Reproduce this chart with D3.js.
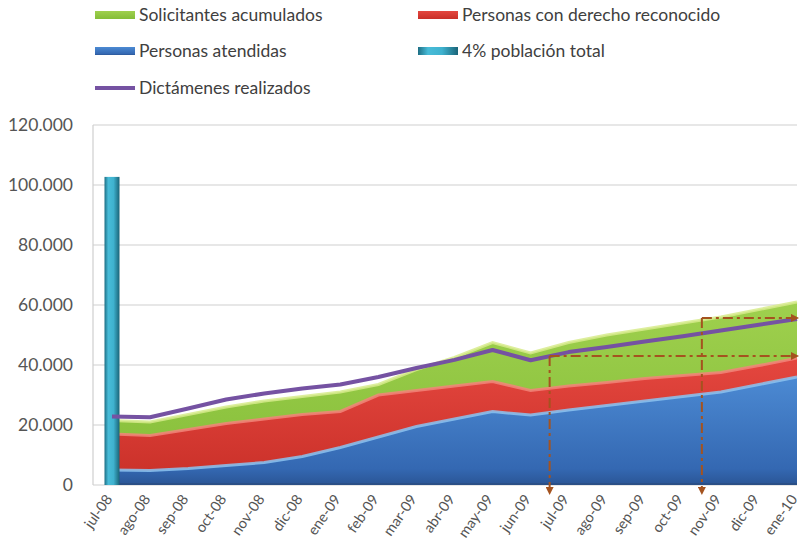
<!DOCTYPE html>
<html>
<head>
<meta charset="utf-8">
<script src="https://cdn.jsdelivr.net/npm/d3@7"></script>
<style>
  body { margin: 0; background: #fff; }
  svg { display: block; font-family: Lato, 'Open Sans', sans-serif; }
</style>
</head>
<body>
<svg id="chart"></svg>
<script>
'use strict'

const months = ['jul-08', 'ago-08', 'sep-08', 'oct-08', 'nov-08', 'dic-08', 'ene-09', 'feb-09', 'mar-09', 'abr-09',
  'may-09', 'jun-09', 'jul-09', 'ago-09', 'sep-09', 'oct-09', 'nov-09', 'dic-09', 'ene-10']
const solicitantes = [21500, 21000, 23500, 26000, 28000, 29500, 31000, 33500, 38500, 42500,
  47500, 44000, 47500, 50000, 52000, 54000, 56000, 58500, 61000]
const reconocido = [17000, 16500, 18500, 20500, 22000, 23500, 24500, 30000, 31500, 33000,
  34500, 31500, 33000, 34200, 35500, 36500, 37500, 39800, 42300]
const atendidas = [5000, 4800, 5500, 6500, 7500, 9500, 12500, 16000, 19500, 22000,
  24500, 23300, 25000, 26500, 28000, 29500, 31000, 33500, 36000]
const dictamenes = [22800, 22600, 25500, 28500, 30500, 32200, 33500, 36000, 39000, 41700,
  45000, 41600, 44300, 46000, 47800, 49600, 51500, 53400, 55300]
const poblacion = [{ month: 'jul-08', value: 102700 }]
const yTicks = [0, 20000, 40000, 60000, 80000, 100000, 120000]
// annotation marks: position between months and the level they point at
const marks = [{ at: 11.5, value: 43000 }, { at: 15.5, value: 55700 }]

const W = 802
const H = 553
const svg = d3.select('#chart').attr('width', W).attr('height', H)
const defs = svg.append('defs')

const plot = { left: 93, right: 797, top: 125, bottom: 485 }
const x = d3.scalePoint().domain(months).range([112, plot.right])
const y = d3.scaleLinear().domain([0, 120000]).range([plot.bottom, plot.top])
const xAt = (i) => x(months[0]) + i * x.step()

const vGrad = (id, stops) => {
  const g = defs.append('linearGradient').attr('id', id)
    .attr('x1', 0).attr('y1', 0).attr('x2', 0).attr('y2', 1)
  stops.forEach(([o, c]) => g.append('stop').attr('offset', o).attr('stop-color', c))
}
vGrad('gGreen', [[0, '#9fd04e'], [1, '#84bd38']])
vGrad('gRed', [[0, '#e4473f'], [1, '#c92f28']])
vGrad('gBlue', [[0, '#4c8ad3'], [0.85, '#3468b2'], [1, '#2a5595']])
const hb = defs.append('linearGradient').attr('id', 'gBar')
  .attr('x1', 0).attr('y1', 0).attr('x2', 1).attr('y2', 0)
;[[0, '#1d6e84'], [0.25, '#48bcd8'], [0.6, '#3fb2cf'], [1, '#1a6478']]
  .forEach(([o, c]) => hb.append('stop').attr('offset', o).attr('stop-color', c))

// gridlines
svg.append('g').selectAll('line').data(yTicks).join('line')
  .attr('x1', plot.left).attr('x2', plot.right)
  .attr('y1', (d) => y(d)).attr('y2', (d) => y(d))
  .attr('stroke', '#cfcfcf').attr('stroke-width', 1.2)
svg.append('line')
  .attr('x1', plot.left).attr('x2', plot.left)
  .attr('y1', plot.top).attr('y2', plot.bottom)
  .attr('stroke', '#cfcfcf').attr('stroke-width', 1.2)

const yAxis = d3.axisLeft(y).tickValues(yTicks).tickSize(0).tickPadding(20)
  .tickFormat((d) => d3.format(',')(d).replace(/,/g, '.'))
const ya = svg.append('g').attr('transform', `translate(${plot.left},0)`).call(yAxis)
ya.select('.domain').remove()
ya.selectAll('text').attr('font-size', 17.5).attr('fill', '#555')
  .attr('font-family', 'Lato, sans-serif')

// areas, back to front
const drawArea = (vals, fill, edge) => {
  const area = d3.area().x((d, i) => x(months[i])).y0(y(0)).y1((d) => y(d))
  const line = d3.line().x((d, i) => x(months[i])).y((d) => y(d))
  svg.append('path').datum(vals).attr('d', area).attr('fill', fill)
  svg.append('path').datum(vals).attr('d', line).attr('fill', 'none')
    .attr('stroke', edge).attr('stroke-width', 3).attr('opacity', 0.85)
}
drawArea(solicitantes, 'url(#gGreen)', '#d7eb8c')
drawArea(reconocido, 'url(#gRed)', '#f2857a')
drawArea(atendidas, 'url(#gBlue)', '#8cc3f0')

// baseline shadow
svg.append('line').attr('x1', x(months[0])).attr('x2', plot.right)
  .attr('y1', y(0) - 1).attr('y2', y(0) - 1).attr('stroke', '#2a4f86').attr('stroke-width', 2)

// 4% bar
svg.append('g').selectAll('rect').data(poblacion).join('rect')
  .attr('x', (d) => x(d.month) - 7.5).attr('width', 15)
  .attr('y', (d) => y(d.value)).attr('height', (d) => y(0) - y(d.value))
  .attr('fill', 'url(#gBar)')

// dictamenes line
svg.append('path').datum(dictamenes)
  .attr('d', d3.line().x((d, i) => x(months[i])).y((d) => y(d)))
  .attr('fill', 'none').attr('stroke', '#7552a2').attr('stroke-width', 4)
  .attr('stroke-linejoin', 'round')

// annotation arrows
const ann = '#a4531f'
defs.append('marker').attr('id', 'arr').attr('viewBox', '0 0 10 10')
  .attr('refX', 5).attr('refY', 5).attr('markerWidth', 4).attr('markerHeight', 4)
  .attr('orient', 'auto')
  .append('path').attr('d', 'M0,0L10,5L0,10Z').attr('fill', ann)
marks.forEach((m) => {
  const mx = xAt(m.at)
  svg.append('line').attr('x1', mx).attr('x2', mx).attr('y1', y(m.value)).attr('y2', y(0) + 6)
    .attr('stroke', ann).attr('stroke-width', 2).attr('stroke-dasharray', '10,4,3,4')
    .attr('marker-end', 'url(#arr)')
  svg.append('line').attr('x1', mx).attr('x2', plot.right - 2).attr('y1', y(m.value)).attr('y2', y(m.value))
    .attr('stroke', ann).attr('stroke-width', 2).attr('stroke-dasharray', '10,4,3,4')
    .attr('marker-end', 'url(#arr)')
})

// x labels
svg.append('g').selectAll('text').data(months).join('text')
  .attr('transform', (d) => `translate(${x(d) + 1},${plot.bottom + 14}) rotate(-55)`)
  .attr('text-anchor', 'end').attr('font-size', 14.5).attr('fill', '#555')
  .text((d) => d)

// legend
const legend = [
  { name: 'Solicitantes acumulados', fill: 'url(#gGreen)', x: 95, y: 15 },
  { name: 'Personas con derecho reconocido', fill: 'url(#gRed)', x: 418, y: 15 },
  { name: 'Personas atendidas', fill: 'url(#gBlue)', x: 95, y: 51 },
  { name: '4% población total', fill: 'url(#gBar)', x: 418, y: 51 },
  { name: 'Dictámenes realizados', line: '#7552a2', x: 95, y: 88 }
]
const lg = svg.append('g').selectAll('g').data(legend).join('g')
  .attr('transform', (d) => `translate(${d.x},${d.y})`)
lg.filter((d) => !d.line).append('rect')
  .attr('x', 0).attr('y', -4).attr('width', 40).attr('height', 8).attr('fill', (d) => d.fill)
lg.filter((d) => d.line).append('line')
  .attr('x1', 0).attr('x2', 40).attr('y1', 0).attr('y2', 0)
  .attr('stroke', (d) => d.line).attr('stroke-width', 4)
lg.append('text').attr('x', 44).attr('y', 6).attr('font-size', 17.5).attr('fill', '#404040')
  .text((d) => d.name)
</script>
</body>
</html>
